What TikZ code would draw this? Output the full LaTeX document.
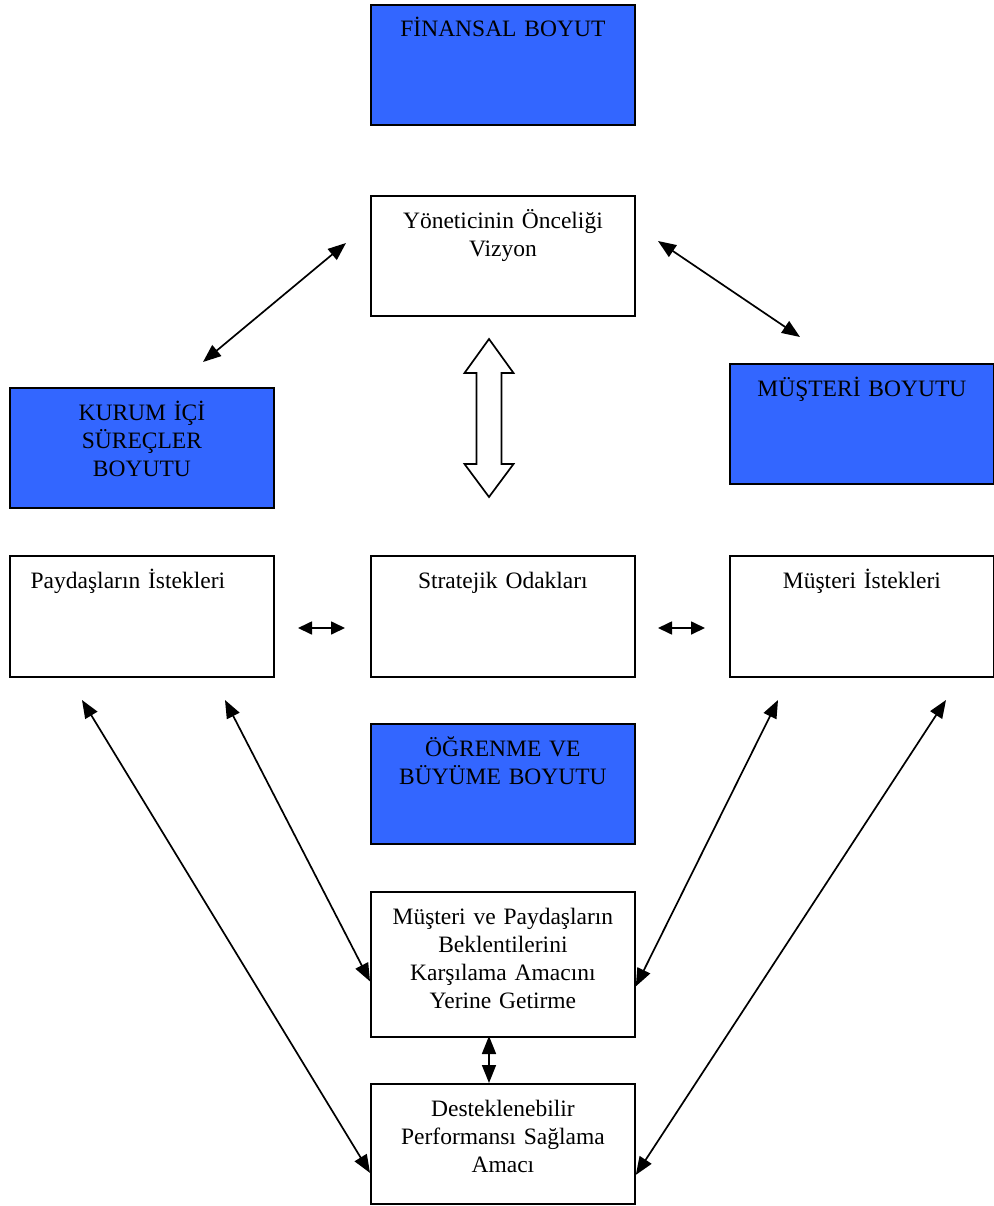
\documentclass[tikz,border=0pt]{standalone}
\usepackage{fontspec}
\setmainfont{Liberation Serif}
\usetikzlibrary{arrows.meta,calc}
\definecolor{dimblue}{RGB}{51,102,255}
\begin{document}
\begin{tikzpicture}[x=1pt,y=-1pt,
  box/.style={draw=black, line width=1.8pt, minimum width=264pt, minimum height=120pt,
              inner sep=0pt, anchor=north west},
  dimbox/.style={box, fill=dimblue},
  txt/.style={font=\fontsize{23.5}{28}\selectfont, text width=262pt, align=center,
              inner sep=0pt, anchor=base},
  link/.style={line width=1.7pt, {Triangle[length=18pt,width=14pt]}-{Triangle[length=18pt,width=14pt]}},
  shortlink/.style={line width=1.7pt, {Triangle[length=14pt,width=13pt]}-{Triangle[length=14pt,width=13pt]}}]
\useasboundingbox (0,0) rectangle (993,1206);

% boxes
\node[dimbox] (fin) at (370,4) {};
\node[box] (vis) at (370,195) {};
\node[dimbox] (kur) at (9,387) {};
\node[dimbox] (mus) at (729,363) {};
\node[box, minimum height=121pt] (pay) at (9,555) {};
\node[box, minimum height=121pt] (str) at (370,555) {};
\node[box, minimum height=121pt] (ist) at (729,555) {};
\node[dimbox] (ogr) at (370,723) {};
\node[box, minimum height=145pt] (bek) at (370,891) {};
\node[box] (des) at (370,1083) {};

% labels
\node[txt] (finT) at ([yshift=-33pt]fin.north) {FİNANSAL BOYUT};
\node[txt] (visT) at ([yshift=-34pt]vis.north) {Yöneticinin Önceliği\\Vizyon};
\node[txt] (kurT) at ([yshift=-33pt]kur.north) {KURUM İÇİ\\SÜREÇLER\\BOYUTU};
\node[txt] (musT) at ([yshift=-33pt]mus.north) {MÜŞTERİ BOYUTU};
\node[txt] (payT) at ([xshift=-14pt,yshift=-33pt]pay.north) {Paydaşların İstekleri};
\node[txt] (strT) at ([yshift=-33pt]str.north) {Stratejik Odakları};
\node[txt] (istT) at ([yshift=-33pt]ist.north) {Müşteri İstekleri};
\node[txt] (ogrT) at ([yshift=-33pt]ogr.north) {ÖĞRENME VE\\BÜYÜME BOYUTU};
\node[txt] (bekT) at ([yshift=-33pt]bek.north) {Müşteri ve Paydaşların\\Beklentilerini\\Karşılama Amacını\\Yerine Getirme};
\node[txt] (desT) at ([yshift=-33pt]des.north) {Desteklenebilir\\Performansı Sağlama\\Amacı};

% connector ends
\coordinate (visL) at (346,243);
\coordinate (kurR) at (203,362);
\coordinate (visR) at (658,241);
\coordinate (musL) at (800,337);
\coordinate (payR) at (298,628);
\coordinate (strL) at (345,628);
\coordinate (strR) at (658,628);
\coordinate (istL) at (705,628);
\coordinate (payA) at (82,700);
\coordinate (payB) at (225,700);
\coordinate (istA) at (778,700);
\coordinate (istB) at (946,700);
\coordinate (bekL) at ($(bek.west)+(0,17)$);
\coordinate (bekR) at ($(bek.east)+(0,22)$);
\coordinate (desL) at ($(des.west)+(0,29)$);
\coordinate (desR) at ($(des.east)+(0,31)$);
\coordinate (bekS) at (489,1036);
\coordinate (desN) at (489,1083);

% connectors
\draw[link] (visL) -- (kurR);
\draw[link] (visR) -- (musL);
\draw[shortlink] (payR) -- (strL);
\draw[shortlink] (strR) -- (istL);
\draw[link] (payA) -- (desL);
\draw[link] (payB) -- (bekL);
\draw[link] (istA) -- (bekR);
\draw[link] (istB) -- (desR);
\draw[link] (bekS) -- (desN);

% hollow two-way arrow between vision and strategic focus
\draw[line width=1.7pt, fill=white, line join=miter]
  (489,339) -- (513.5,373) -- (501.5,373) -- (501.5,464) -- (513.5,464)
  -- (489,497) -- (464.5,464) -- (476.5,464) -- (476.5,373) -- (464.5,373) -- cycle;
\end{tikzpicture}
\end{document}
